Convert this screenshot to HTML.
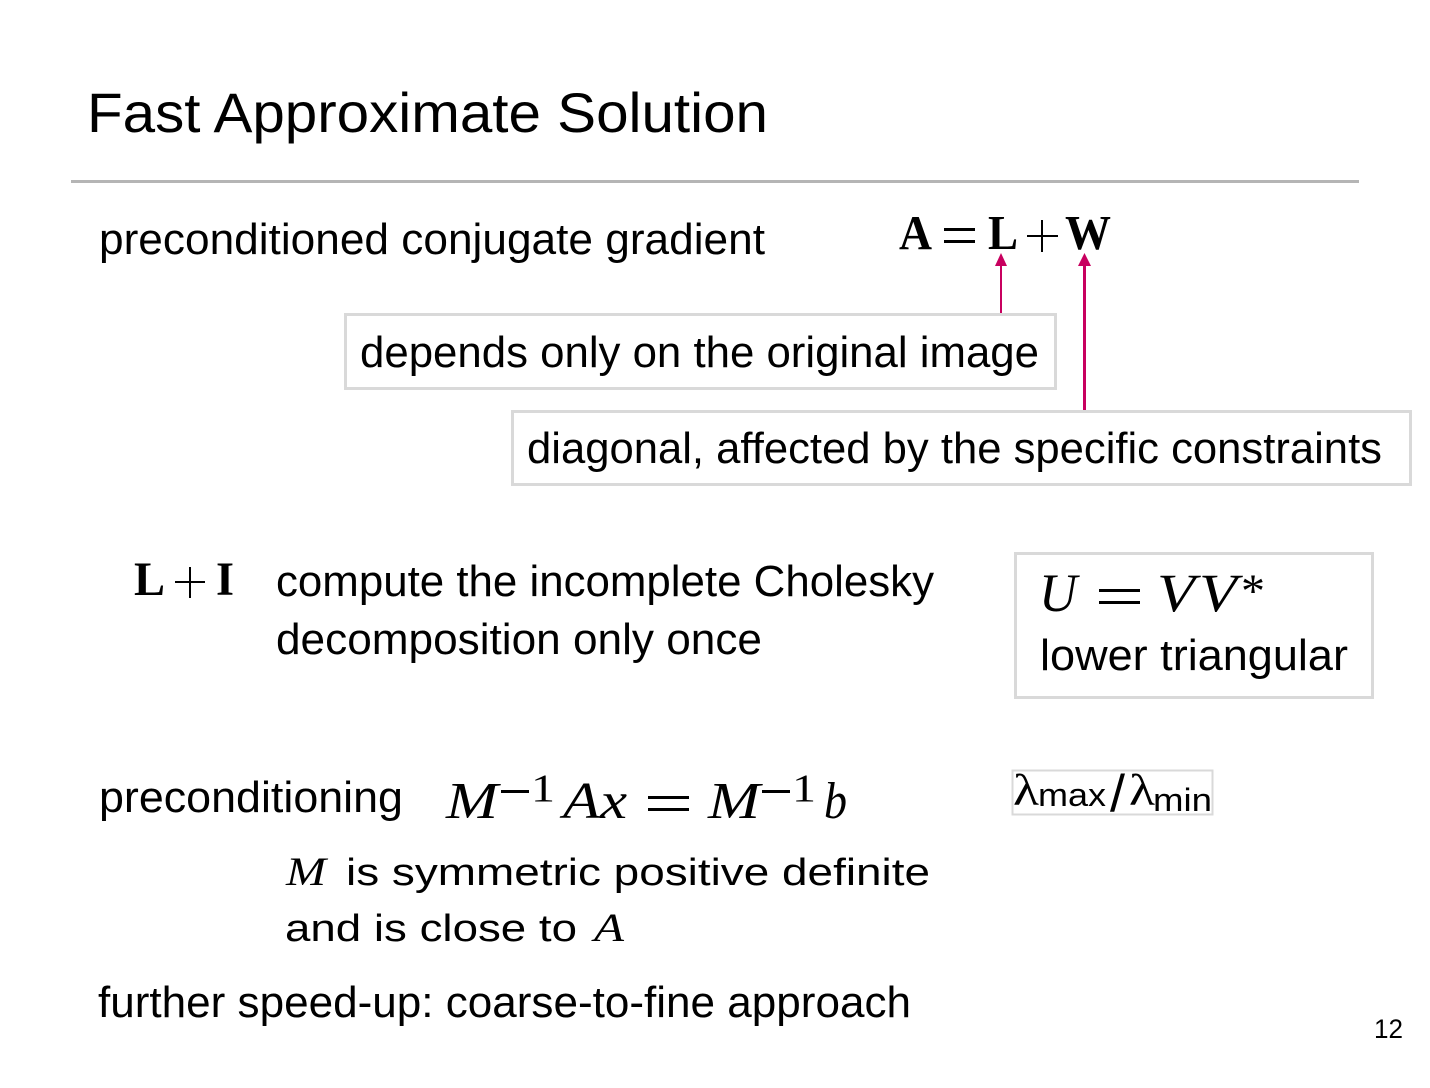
<!DOCTYPE html>
<html>
<head>
<meta charset="utf-8">
<style>
html,body{margin:0;padding:0;background:#fff}
svg{display:block}
text{font-family:"Liberation Sans",sans-serif;fill:#000}
.s{font-family:"Liberation Serif",serif}
.i{font-family:"Liberation Serif",serif;font-style:italic}
.b{font-family:"Liberation Serif",serif;font-weight:bold}
</style>
</head>
<body>
<svg width="1430" height="1088" viewBox="0 0 1430 1088" xmlns="http://www.w3.org/2000/svg">
<rect width="1430" height="1088" fill="#fff"/>

<text x="87" y="132" font-size="56" textLength="681" lengthAdjust="spacingAndGlyphs">Fast Approximate Solution</text>
<rect x="71" y="180" width="1288" height="3" fill="#b5b5b5"/>

<text x="99" y="254" font-size="44" textLength="666" lengthAdjust="spacingAndGlyphs">preconditioned conjugate gradient</text>

<text class="b" x="899" y="249" font-size="49" textLength="33" lengthAdjust="spacingAndGlyphs">A</text>
<rect x="944" y="228" width="31" height="3" fill="#000"/>
<rect x="944" y="240" width="31" height="3" fill="#000"/>
<text class="b" x="988" y="249" font-size="49" textLength="30" lengthAdjust="spacingAndGlyphs">L</text>
<rect x="1027" y="235" width="31" height="2" fill="#000"/>
<rect x="1041" y="220" width="2" height="32" fill="#000"/>
<text class="b" x="1065" y="249" font-size="49" textLength="46" lengthAdjust="spacingAndGlyphs">W</text>

<rect x="1000" y="264" width="2" height="50" fill="#c8005f"/>
<polygon points="1001,253 1007,266 995,266" fill="#c8005f"/>
<rect x="1083" y="264" width="3" height="147" fill="#c8005f"/>
<polygon points="1084.5,253 1091,266 1078,266" fill="#c8005f"/>

<rect x="345.5" y="314.5" width="710" height="74" fill="#fff" stroke="#d9d9d9" stroke-width="3"/>
<text x="360" y="367" font-size="44" textLength="679" lengthAdjust="spacingAndGlyphs">depends only on the original image</text>

<rect x="512.5" y="411.5" width="898" height="73" fill="#fff" stroke="#d9d9d9" stroke-width="3"/>
<text x="527" y="463" font-size="44" textLength="855" lengthAdjust="spacingAndGlyphs">diagonal, affected by the specific constraints</text>

<text class="b" x="134" y="595" font-size="48" textLength="31" lengthAdjust="spacingAndGlyphs">L</text>
<rect x="175" y="581" width="30" height="2" fill="#000"/>
<rect x="189" y="567" width="2" height="31" fill="#000"/>
<text class="b" x="216" y="595" font-size="48" textLength="18" lengthAdjust="spacingAndGlyphs">I</text>

<text x="276" y="596" font-size="44" textLength="658" lengthAdjust="spacingAndGlyphs">compute the incomplete Cholesky</text>
<text x="276" y="654" font-size="44" textLength="486" lengthAdjust="spacingAndGlyphs">decomposition only once</text>

<rect x="1015.5" y="553.5" width="357" height="144" fill="#fff" stroke="#d9d9d9" stroke-width="3"/>
<text class="i" x="1039" y="611" font-size="54" textLength="38" lengthAdjust="spacingAndGlyphs">U</text>
<rect x="1099" y="589" width="41" height="3" fill="#000"/>
<rect x="1099" y="601" width="41" height="3" fill="#000"/>
<text class="i" x="1157" y="611" font-size="54" textLength="38" lengthAdjust="spacingAndGlyphs">V</text>
<text class="i" x="1199" y="611" font-size="54" textLength="38" lengthAdjust="spacingAndGlyphs">V</text>
<text class="s" x="1241" y="607" font-size="48" textLength="24" lengthAdjust="spacingAndGlyphs">*</text>
<text x="1040" y="670" font-size="44" textLength="308" lengthAdjust="spacingAndGlyphs">lower triangular</text>

<rect x="1012.5" y="770.5" width="200" height="44" fill="#fff" stroke="#d9d9d9" stroke-width="2"/>
<text class="s" x="1013" y="805" font-size="44" textLength="26" lengthAdjust="spacingAndGlyphs">λ</text>
<text x="1038" y="806" font-size="32" textLength="68" lengthAdjust="spacingAndGlyphs">max</text>
<text x="1110" y="811" font-size="52" font-weight="normal" textLength="15" lengthAdjust="spacingAndGlyphs" fill="#333">/</text>
<text class="s" x="1129" y="805" font-size="44" textLength="26" lengthAdjust="spacingAndGlyphs">λ</text>
<text x="1153" y="811" font-size="32" textLength="59" lengthAdjust="spacingAndGlyphs">min</text>

<text x="99" y="812" font-size="44" textLength="304" lengthAdjust="spacingAndGlyphs">preconditioning</text>

<text class="i" x="446" y="818" font-size="52" textLength="52" lengthAdjust="spacingAndGlyphs">M</text>
<rect x="501" y="790" width="28" height="3" fill="#000"/>
<text class="s" x="531" y="801" font-size="39" textLength="24" lengthAdjust="spacingAndGlyphs">1</text>
<text class="i" x="563" y="818" font-size="52" textLength="64" lengthAdjust="spacingAndGlyphs">Ax</text>
<rect x="648" y="796" width="41" height="3" fill="#000"/>
<rect x="648" y="808" width="41" height="3" fill="#000"/>
<text class="i" x="708" y="818" font-size="52" textLength="52" lengthAdjust="spacingAndGlyphs">M</text>
<rect x="762" y="790" width="28" height="3" fill="#000"/>
<text class="s" x="792" y="801" font-size="39" textLength="24" lengthAdjust="spacingAndGlyphs">1</text>
<text class="i" x="824" y="818" font-size="52" textLength="23" lengthAdjust="spacingAndGlyphs">b</text>

<text class="i" x="286" y="885" font-size="40" textLength="40" lengthAdjust="spacingAndGlyphs">M</text>
<text x="346" y="885" font-size="38" textLength="584" lengthAdjust="spacingAndGlyphs">is symmetric positive definite</text>
<text x="285" y="941" font-size="38" textLength="292" lengthAdjust="spacingAndGlyphs">and is close to</text>
<text class="i" x="594" y="941" font-size="40" textLength="30" lengthAdjust="spacingAndGlyphs">A</text>

<text x="98" y="1017" font-size="44" textLength="813" lengthAdjust="spacingAndGlyphs">further speed-up: coarse-to-fine approach</text>

<text x="1374" y="1038" font-size="27" textLength="29" lengthAdjust="spacingAndGlyphs" fill="#222">12</text>
</svg>
</body>
</html>
